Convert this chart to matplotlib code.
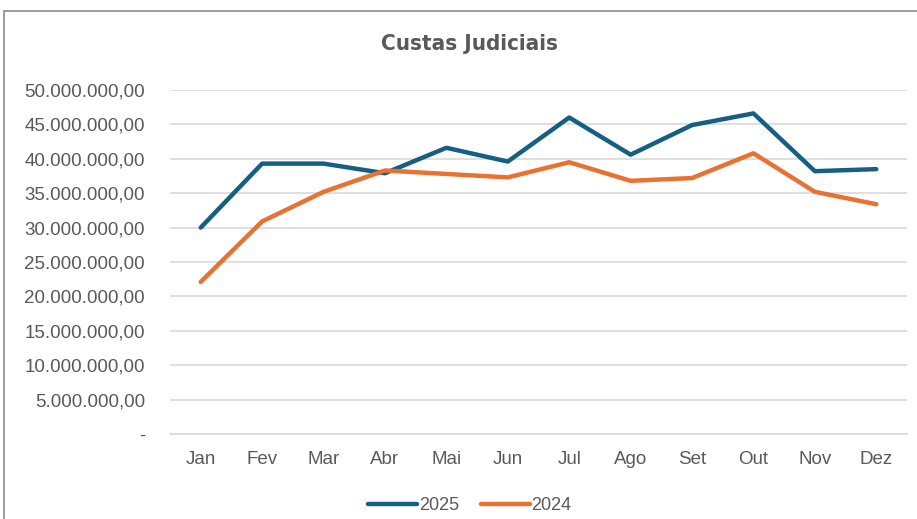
import matplotlib
matplotlib.use("Agg")
import matplotlib.pyplot as plt
from matplotlib.ticker import FuncFormatter, MultipleLocator
from matplotlib.patches import Rectangle

# Monthly values
months = ["Jan", "Fev", "Mar", "Abr", "Mai", "Jun", "Jul", "Ago", "Set", "Out", "Nov", "Dez"]
custas_2025 = [30.0e6, 39.3e6, 39.3e6, 37.9e6, 41.6e6, 39.6e6, 46.0e6, 40.6e6, 44.9e6, 46.6e6, 38.2e6, 38.5e6]
custas_2024 = [22.1e6, 30.9e6, 35.2e6, 38.3e6, 37.8e6, 37.3e6, 39.5e6, 36.8e6, 37.2e6, 40.8e6, 35.2e6, 33.4e6]

W, H = 917, 519
plt.rcParams["font.family"] = ["Liberation Sans", "DejaVu Sans"]
fig = plt.figure(figsize=(W / 100, H / 100), dpi=100)

# chart border (only top and left visible in the reference)
fig.patches.append(Rectangle((4 / W, -0.1), 1.2, 1 - 11 / H + 0.1, transform=fig.transFigure,
                             fill=False, edgecolor="#8c8c8c", linewidth=1.2))

ax = fig.add_axes([170 / W, 1 - 434 / H, (907 - 170) / W, (434 - 90) / H])
x = range(len(months))
ax.plot(x, custas_2025, color="#156082", linewidth=3.2, label="2025", solid_capstyle="round")
ax.plot(x, custas_2024, color="#E97132", linewidth=3.2, label="2024", solid_capstyle="round")

ax.set_xlim(-0.5, len(months) - 0.5)
ax.set_ylim(0, 50e6)
ax.yaxis.set_major_locator(MultipleLocator(5e6))


def br_fmt(v, pos):
    if v == 0:
        return "-"
    s = f"{v:,.2f}"
    return s.replace(",", "X").replace(".", ",").replace("X", ".")


ax.yaxis.set_major_formatter(FuncFormatter(br_fmt))
ax.set_xticks(list(x))
ax.set_xticklabels(months)
ax.grid(axis="y", color="#d9d9d9", linewidth=1.2)
ax.set_axisbelow(True)
for s in ["top", "right", "left"]:
    ax.spines[s].set_visible(False)
ax.spines["bottom"].set_color("#d9d9d9")
ax.spines["bottom"].set_linewidth(1.2)
ax.tick_params(length=0, colors="#595959", labelsize=13.5)
ax.tick_params(axis="y", pad=18)
ax.tick_params(axis="x", pad=12)

fig.text(470 / W, 1 - 44 / H, "Custas Judiciais", ha="center", va="center", fontsize=16,
         fontweight="bold", fontstretch="condensed", color="#595959", family="DejaVu Sans")

fig.legend(loc="center", bbox_to_anchor=(470 / W, 1 - 506 / H), ncol=2, frameon=False,
           fontsize=13, labelcolor="#595959", handlelength=2.7, handletextpad=0.1,
           columnspacing=1.2)

fig.savefig("out.png", dpi=100)
